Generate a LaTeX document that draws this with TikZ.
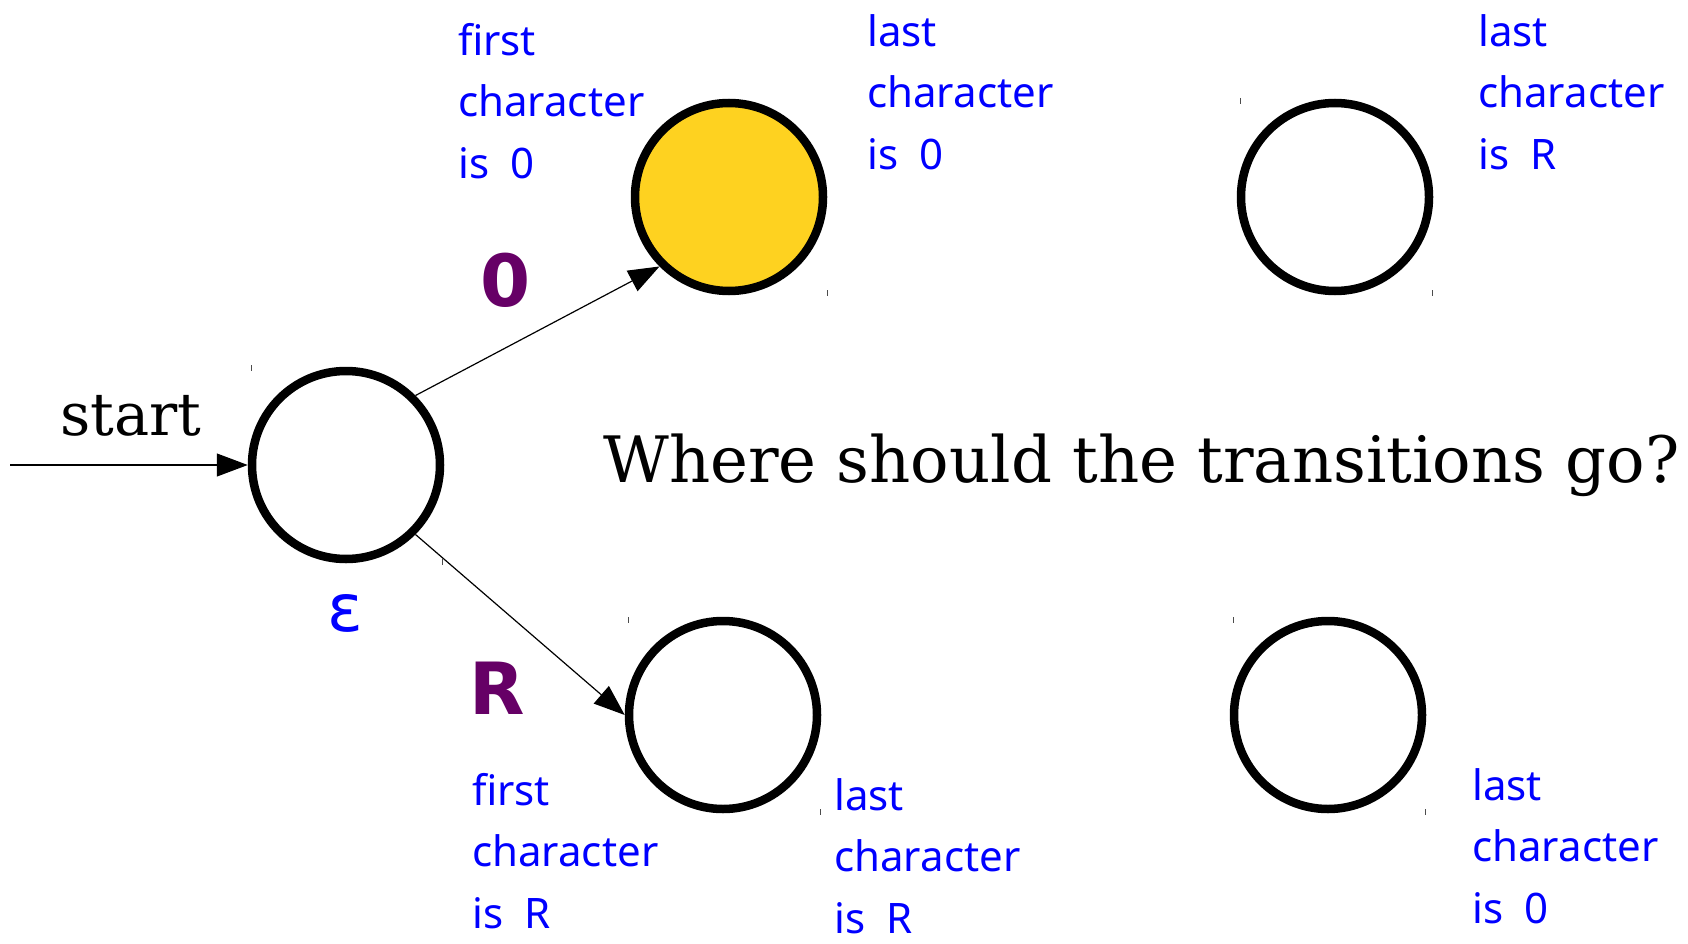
\documentclass[tikz,border=0pt]{standalone}
\usepackage{fontspec}
\setmainfont{DejaVu Serif}
\newfontfamily\handfont{Noto Sans}
\newfontfamily\boldsans{DejaVu Sans}
\usetikzlibrary{arrows.meta}
\definecolor{stateyellow}{RGB}{254,210,32}
\definecolor{labelpurple}{RGB}{102,0,102}
\definecolor{noteblue}{RGB}{0,0,255}
\begin{document}
\begin{tikzpicture}[x=1pt,y=-1pt,
  state/.style={circle,draw=black,line width=8.5pt,minimum size=188pt,inner sep=0pt},
  trans/.style={line width=1.2pt,-{Triangle[length=31pt,width=23pt]}},
  note/.style={anchor=north west,text=noteblue,font=\handfont\fontsize{42}{61.5}\selectfont,align=left,inner sep=0pt},
  sym/.style={text=labelpurple,font=\boldsans\bfseries\fontsize{72}{80}\selectfont,inner sep=0pt},
  tickmark/.style={line width=0.8pt,black!70}]
\useasboundingbox (0,0) rectangle (1688,944);

% states
\node[state] (q0) at (346,465) {};
\node[state,fill=stateyellow] (q1) at (729,197) {};
\node[state] (q2) at (1335,197) {};
\node[state] (q3) at (723,715) {};
\node[state] (q4) at (1328,715) {};

% transitions
\coordinate (entry) at (10,465);
\draw[trans] (entry) -- (q0.west);
\draw[trans] (q0.north east) -- (q1.south west);
\draw[trans] (q0.south east) -- (q3.west);

% labels
\node[anchor=base,inner sep=0pt,font=\fontsize{59}{60}\selectfont] (startlbl) at (131,435) {start};
\node[anchor=base west,inner sep=0pt,font=\fontsize{64}{70}\selectfont] (question) at (603,482) {Where should the transitions go?};
\node[sym] (lbl0) at (506,280) {0};
\node[sym] (lblR) at (497,688) {R};
\node[inner sep=0pt,text=noteblue,font=\boldsans\fontsize{66}{70}\selectfont] (eps) at (345,613) {ε};

% notes
\node[note] (n1) at (458,23) {first\\character\\is~~0};
\node[note] (n2) at (867,14) {last\\character\\is~~0};
\node[note] (n3) at (1478,14) {last\\character\\is~~R};
\node[note] (n4) at (472,773) {first\\character\\is~~R};
\node[note] (n5) at (834,778) {last\\character\\is~~R};
\node[note] (n6) at (1472,768) {last\\character\\is~~0};

% small corner ticks
\foreach \tx/\ty in {251/368,442/562,827/293,1240/101,1432/293,628/620,820/812,1233/620,1425/812}
  \draw[tickmark] (\tx,\ty-3) -- (\tx,\ty+3);
\end{tikzpicture}
\end{document}
